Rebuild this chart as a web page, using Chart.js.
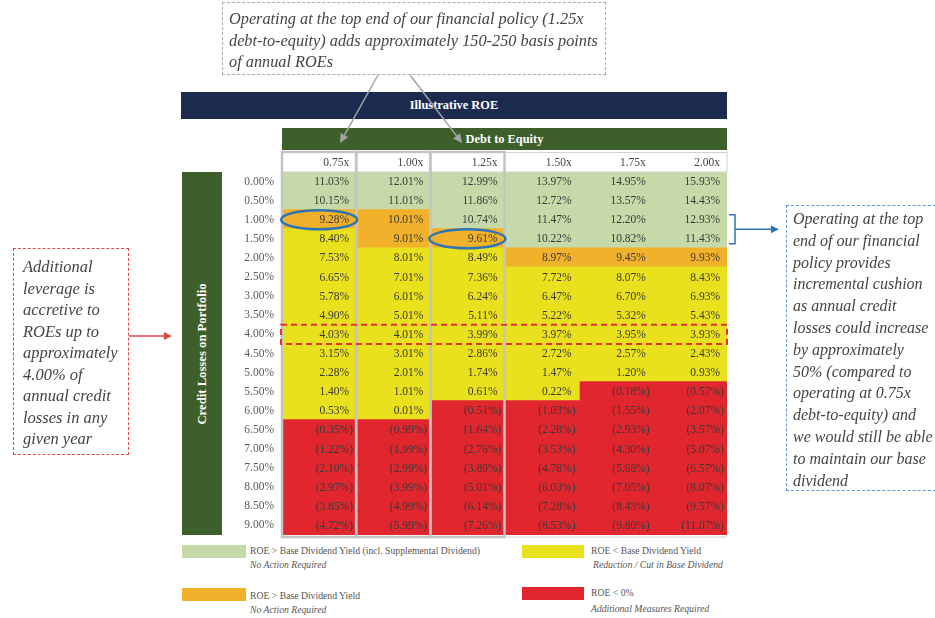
<!DOCTYPE html>
<html>
<head>
<meta charset="utf-8">
<script src="https://cdn.jsdelivr.net/npm/chart.js@4.4.0/dist/chart.umd.min.js"></script>
<style>
  body { margin: 0; background: #fff; width: 935px; height: 618px; overflow: hidden; position: relative;
         font-family: 'Liberation Serif', 'Times New Roman', serif; }
  #wrap { position: absolute; left: 0; top: 0; width: 935px; height: 618px; z-index: 5; }
  .note { position: absolute; z-index: 6; box-sizing: border-box; font-style: italic; color: #444; white-space: nowrap; }
  .bar { position: absolute; color: #fff; font-weight: bold; font-size: 12.4px; text-align: center; }
  .sw { position: absolute; width: 64px; height: 13px; }
  .lg { position: absolute; font-size: 9.7px; color: #555; white-space: nowrap; line-height: 14px; }
  .lg i { display: block; }
</style>
</head>
<body>
<div id="wrap"><canvas id="roeChart"></canvas></div>

<div class="note" style="left:222px;top:2px;width:384px;height:73px;border:1px dashed #aaa;padding:5px 0 0 6px;font-size:16.3px;line-height:21.5px;">
Operating at the top end of our financial policy (1.25x<br>debt-to-equity) adds approximately 150-250 basis points<br>of annual ROEs</div>

<div class="note" style="left:13px;top:248px;width:116px;height:207px;border:1.3px dashed #e0474c;padding:7px 0 0 9px;font-size:16.5px;line-height:21.5px;">
Additional<br>leverage is<br>accretive to<br>ROEs up to<br>approximately<br>4.00% of<br>annual credit<br>losses in any<br>given year</div>

<div class="note" style="left:786px;top:205px;width:160px;height:286px;border:1.3px dashed #5b9bd5;padding:2px 0 0 6px;font-size:16px;line-height:21.8px;">
Operating at the top<br>end of our financial<br>policy provides<br>incremental cushion<br>as annual credit<br>losses could increase<br>by approximately<br>50% (compared to<br>operating at 0.75x<br>debt-to-equity) and<br>we would still be able<br>to maintain our base<br>dividend</div>

<div class="bar" style="left:181px;top:92px;width:546px;height:27px;line-height:27px;background:#1d2a4f;">Illustrative ROE</div>
<div class="bar" style="left:282px;top:128px;width:445px;height:22px;line-height:22px;background:#3d602b;">Debt to Equity</div>
<div class="bar" style="left:182px;top:172px;width:40px;height:363px;background:#3d602b;">
  <div style="position:absolute;left:50%;top:50%;transform:translate(-50%,-50%) rotate(-90deg);white-space:nowrap;font-size:12.7px;">Credit Losses on Portfolio</div>
</div>

<div class="sw" style="left:182px;top:545px;background:#c6d9a8;"></div>
<div class="lg" style="left:250px;top:544px;">ROE &gt; Base Dividend Yield (incl. Supplemental Dividend)<i>No Action Required</i></div>
<div class="sw" style="left:522px;top:545px;width:62px;background:#e9e11d;"></div>
<div class="lg" style="left:591px;top:544px;">ROE &lt; Base Dividend Yield<i style="padding-left:2px;">Reduction / Cut in Base Dividend</i></div>
<div class="sw" style="left:182px;top:588px;background:#f1b12a;"></div>
<div class="lg" style="left:250px;top:589px;">ROE &gt; Base Dividend Yield<i>No Action Required</i></div>
<div class="sw" style="left:522px;top:587px;width:62px;background:#e2262e;"></div>
<div class="lg" style="left:591px;top:586px;">ROE &lt; 0%<i style="margin-top:2px;">Additional Measures Required</i></div>

<script>
// Rows: annual credit losses on portfolio; columns: debt to equity
const creditLosses = ['0.00%', '0.50%', '1.00%', '1.50%', '2.00%', '2.50%', '3.00%', '3.50%', '4.00%', '4.50%',
                      '5.00%', '5.50%', '6.00%', '6.50%', '7.00%', '7.50%', '8.00%', '8.50%', '9.00%'];
const leverage = ['0.75x', '1.00x', '1.25x', '1.50x', '1.75x', '2.00x'];

// Illustrative ROE (%) per leverage column, negative = shown in brackets
const roe075 = [11.03, 10.15, 9.28, 8.40, 7.53, 6.65, 5.78, 4.90, 4.03, 3.15, 2.28, 1.40, 0.53, -0.35, -1.22, -2.10, -2.97, -3.85, -4.72];
const roe100 = [12.01, 11.01, 10.01, 9.01, 8.01, 7.01, 6.01, 5.01, 4.01, 3.01, 2.01, 1.01, 0.01, -0.99, -1.99, -2.99, -3.99, -4.99, -5.99];
const roe125 = [12.99, 11.86, 10.74, 9.61, 8.49, 7.36, 6.24, 5.11, 3.99, 2.86, 1.74, 0.61, -0.51, -1.64, -2.76, -3.89, -5.01, -6.14, -7.26];
const roe150 = [13.97, 12.72, 11.47, 10.22, 8.97, 7.72, 6.47, 5.22, 3.97, 2.72, 1.47, 0.22, -1.03, -2.28, -3.53, -4.78, -6.03, -7.28, -8.53];
const roe175 = [14.95, 13.57, 12.20, 10.82, 9.45, 8.07, 6.70, 5.32, 3.95, 2.57, 1.20, -0.18, -1.55, -2.93, -4.30, -5.68, -7.05, -8.43, -9.80];
const roe200 = [15.93, 14.43, 12.93, 11.43, 9.93, 8.43, 6.93, 5.43, 3.93, 2.43, 0.93, -0.57, -2.07, -3.57, -5.07, -6.57, -8.07, -9.57, -11.07];
const roeColumns = [roe075, roe100, roe125, roe150, roe175, roe200];

// zone sizes per column (rows from the top): green, then orange, then yellow until ROE < 0 (red)
const greenRows = [2, 2, 3, 4, 4, 4];
const orangeRows = [1, 2, 1, 1, 1, 1];

// highlights: [column, row]
const circledCells = [[0, 2], [2, 3]];
const boxedRow = '4.00%';
const bracketRows = ['1.00%', '1.50%'];

const GREEN = '#c6d9a8', ORANGE = '#f1b12a', YELLOW = '#e9e11d', RED = '#e2262e';
const SERIF = "'Liberation Serif', 'Times New Roman', serif";

function zoneColor(j, i, v) {
    if (v < 0) return RED;
    if (i < greenRows[j]) return GREEN;
    if (i < greenRows[j] + orangeRows[j]) return ORANGE;
    return YELLOW;
}

function fmt(v) {
    return v < 0 ? '(' + Math.abs(v).toFixed(2) + '%)' : v.toFixed(2) + '%';
}

function arrow(ctx, x1, y1, x2, y2, color, lw, head) {
    const ang = Math.atan2(y2 - y1, x2 - x1);
    ctx.strokeStyle = color; ctx.fillStyle = color; ctx.lineWidth = lw;
    ctx.beginPath();
    ctx.moveTo(x1, y1);
    ctx.lineTo(x2 - Math.cos(ang) * head * 0.8, y2 - Math.sin(ang) * head * 0.8);
    ctx.stroke();
    ctx.beginPath();
    ctx.moveTo(x2, y2);
    ctx.lineTo(x2 - head * Math.cos(ang - 0.45), y2 - head * Math.sin(ang - 0.45));
    ctx.lineTo(x2 - head * Math.cos(ang + 0.45), y2 - head * Math.sin(ang + 0.45));
    ctx.closePath();
    ctx.fill();
}

const tableDecor = {
    id: 'tableDecor',
    afterDatasetsDraw(chart) {
        const { ctx, chartArea: a, scales: { x } } = chart;
        const headTop = a.top - 20, bottom = a.bottom + 2;
        ctx.save();

        // header row
        ctx.fillStyle = '#fff';
        ctx.fillRect(a.left, headTop, a.right - a.left, a.top - headTop);
        ctx.strokeStyle = '#d2d2d2'; ctx.lineWidth = 1;
        ctx.strokeRect(a.left, headTop + 0.5, a.right - a.left, a.top - headTop - 0.5);
        ctx.beginPath(); ctx.moveTo(x.getPixelForValue(3), bottom); ctx.lineTo(a.right, bottom); ctx.stroke();

        // framed columns 0.75x / 1.00x / 1.25x
        ctx.strokeStyle = '#c4c4c4'; ctx.lineWidth = 2.5;
        for (let j = 0; j < 3; j++) {
            const l = x.getPixelForValue(j), r = x.getPixelForValue(j + 1);
            ctx.strokeRect(l, headTop, r - l, bottom - headTop);
        }

        ctx.font = '11.5px ' + SERIF;
        ctx.textAlign = 'right'; ctx.textBaseline = 'middle';
        ctx.fillStyle = '#444';
        leverage.forEach((lev, j) => ctx.fillText(lev, x.getPixelForValue(j + 1) - 7, (headTop + a.top) / 2 + 1));

        // cell values
        const close = ctx.measureText(')').width;
        ctx.fillStyle = '#3a3a3a';
        chart.data.datasets.forEach((ds, j) => {
            chart.getDatasetMeta(j).data.forEach((bar, i) => {
                const v = ds.roe[i];
                const right = Math.max(bar.x, bar.base) - 7;
                ctx.fillText(fmt(v), v < 0 ? right + close : right, bar.y + 0.5);
            });
        });
        ctx.restore();
    },
    afterDraw(chart) {
        const { ctx, chartArea: a, scales: { x, y } } = chart;
        const rowH = y.getPixelForValue(1) - y.getPixelForValue(0);
        ctx.save();

        // dashed box round the 4.00% row
        const yb = y.getPixelForValue(creditLosses.indexOf(boxedRow));
        ctx.strokeStyle = '#e8303a'; ctx.lineWidth = 2; ctx.setLineDash([6, 4]);
        ctx.strokeRect(a.left - 1, yb - rowH / 2, a.right - a.left + 1, rowH);
        ctx.setLineDash([]);

        // blue ellipses
        ctx.strokeStyle = '#2f74b5'; ctx.lineWidth = 2.5;
        circledCells.forEach(([j, i]) => {
            const bar = chart.getDatasetMeta(j).data[i];
            ctx.beginPath();
            ctx.ellipse((bar.x + bar.base) / 2, bar.y, 38, 9.5, 0, 0, Math.PI * 2);
            ctx.stroke();
        });

        // blue bracket and arrow to the right note
        const y1 = y.getPixelForValue(creditLosses.indexOf(bracketRows[0])) - 5;
        const y2 = y.getPixelForValue(creditLosses.indexOf(bracketRows[1])) + 5;
        const bx = a.right + 8;
        ctx.lineWidth = 1.5;
        ctx.beginPath();
        ctx.moveTo(a.right + 2, y1); ctx.lineTo(bx, y1); ctx.lineTo(bx, y2); ctx.lineTo(a.right + 2, y2);
        ctx.stroke();
        arrow(ctx, bx, (y1 + y2) / 2, 779, (y1 + y2) / 2, '#2f74b5', 1.5, 9);

        // red arrow from the left note
        arrow(ctx, 129, 336, 172, 336, '#e0474c', 1.5, 9);

        // grey arrows from the top note
        arrow(ctx, 378, 75, 340, 143, '#a3a3a3', 1.5, 10);
        arrow(ctx, 410, 75, 462, 143, '#a3a3a3', 1.5, 10);
        ctx.restore();
    }
};

new Chart(document.getElementById('roeChart'), {
    type: 'bar',
    data: {
        labels: creditLosses,
        datasets: leverage.map((lev, j) => ({
            label: lev,
            data: creditLosses.map(() => 1),
            roe: roeColumns[j],
            backgroundColor: roeColumns[j].map((v, i) => zoneColor(j, i, v)),
            borderWidth: 0,
            inflateAmount: 1,
            barPercentage: 1,
            categoryPercentage: 1
        }))
    },
    options: {
        indexAxis: 'y',
        responsive: true,
        maintainAspectRatio: false,
        animation: false,
        layout: { padding: { left: 232, right: 208, top: 172, bottom: 83 } },
        plugins: { legend: { display: false }, tooltip: { enabled: false } },
        scales: {
            x: { type: 'linear', stacked: true, min: 0, max: 6, display: false },
            y: {
                stacked: true,
                grid: { display: false, drawTicks: false },
                border: { display: false },
                ticks: { color: '#5a5a5a', padding: 8, font: { family: SERIF, size: 11.5 } },
                afterFit(scale) { scale.width = 50; }
            }
        }
    },
    plugins: [tableDecor]
});
</script>
</body>
</html>
